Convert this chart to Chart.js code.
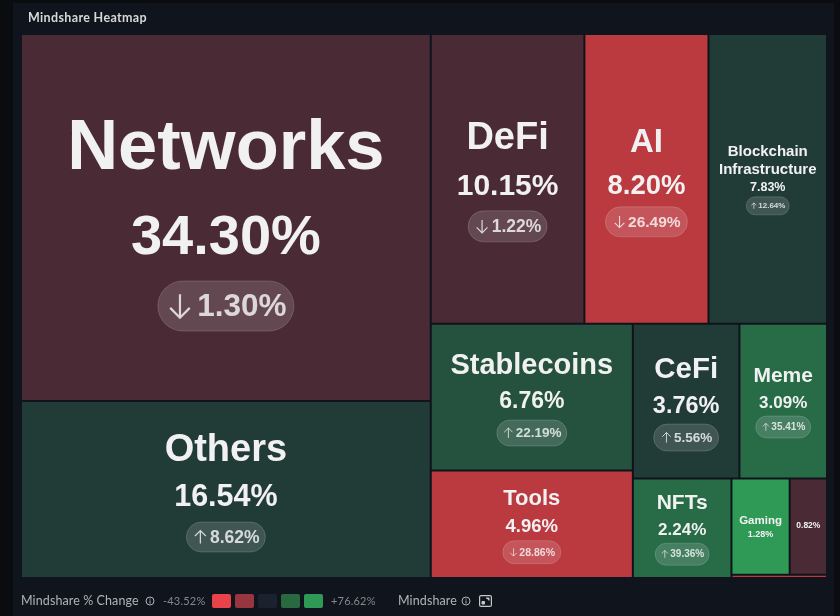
<!DOCTYPE html>
<html>
<head>
<meta charset="utf-8">
<title>Mindshare Heatmap</title>
<script src="https://cdn.jsdelivr.net/npm/chart.js@4/dist/chart.umd.min.js"></script>
<style>
    html, body { margin: 0; padding: 0; width: 840px; height: 616px; overflow: hidden; background: #0a0c10; }
    #card { position: absolute; left: 13px; top: 3px; width: 821px; height: 613px; background: #10141c; }
    #chart { position: absolute; left: 0; top: 0; }
    .txt { position: absolute; font-family: Lato, sans-serif; white-space: nowrap; }
    #title { left: 28px; top: 10px; font-size: 12.5px; font-weight: 700; color: #d6d8da; letter-spacing: 0.35px; }
    .legend { top: 593px; font-size: 12.5px; line-height: 16px; color: #b0b3b8; letter-spacing: 0.1px; }
    .range { top: 594px; font-size: 11px; line-height: 14px; color: #85888e; letter-spacing: 0.2px; }
    .swatch { position: absolute; top: 594px; width: 19px; height: 14px; border-radius: 2px; }
    svg { position: absolute; }
</style>
</head>
<body>
<div id="card"></div>
<canvas id="chart" width="840" height="616"></canvas>
<div id="title" class="txt">Mindshare Heatmap</div>
<div class="txt legend" style="left:21px">Mindshare % Change</div>
<svg style="left:145px;top:596px" width="10" height="10" viewBox="0 0 10 10"><circle cx="5" cy="5" r="4" fill="none" stroke="#b0b3b8"/><path d="M5 4.5V7.5M5 2.6V3.6" stroke="#b0b3b8"/></svg>
<div class="txt range" style="left:163px">-43.52%</div>
<div id="swatches"></div>
<div class="txt range" style="left:331px">+76.62%</div>
<div class="txt legend" style="left:398px">Mindshare</div>
<svg style="left:461px;top:596px" width="10" height="10" viewBox="0 0 10 10"><circle cx="5" cy="5" r="4" fill="none" stroke="#b0b3b8"/><path d="M5 4.5V7.5M5 2.6V3.6" stroke="#b0b3b8"/></svg>
<svg style="left:479px;top:595px" width="13" height="12" viewBox="0 0 13 12"><rect x="0.6" y="0.6" width="11.8" height="10.8" rx="1.5" fill="none" stroke="#c4c6ca" stroke-width="1.2"/><path d="M3 9V6.5H5.5V9ZM7 3H10V5.5" fill="#c4c6ca" stroke="#c4c6ca"/></svg>
<script>
// Data
const categories = ["Networks", "Others", "DeFi", "AI", "Blockchain Infrastructure", "Stablecoins", "Tools", "CeFi", "Meme", "NFTs", "Gaming", "", ""];
const shares = [34.30, 16.54, 10.15, 8.20, 7.83, 6.76, 4.96, 3.76, 3.09, 2.24, 1.28, 0.82, 0.07];
// the last three changes are not printed
const changes = [-1.30, 8.62, -1.22, -26.49, 12.64, 22.19, -28.86, 5.56, 35.41, 39.36, 60, -2, -30];
const legendColors = ["#e8424a", "#97363f", "#1a2230", "#28693f", "#2f9a55"];

// How the cells nest: h = side by side, v = stacked
const nesting = ["h",
    ["v", 0, 1],
    ["v",
        ["h", 2, 3, 4],
        ["h",
            ["v", 5, 6],
            ["v",
                ["h", 7, 8],
                ["h", 9, ["v", ["h", 10, 11], 12]]
            ]
        ]
    ]
];

// Text sizes and offsets from the cell centre: title, share, badge
const labelStyles = [
    { title: 70.5, titleDy: [-72.5], share: 56, shareDy: 17.5, badge: 31.5, badgeDy: 88.5, badgeW: 136, badgeH: 50 },
    { title: 38, titleDy: [-41.5], share: 30.5, shareDy: 6.5, badge: 17.5, badgeDy: 47.5, badgeW: 79, badgeH: 30 },
    { title: 38, titleDy: [-43], share: 30, shareDy: 6, badge: 17.5, badgeDy: 47.5, badgeW: 79, badgeH: 31 },
    { title: 33, titleDy: [-38], share: 27.5, shareDy: 6, badge: 15.5, badgeDy: 43, badgeW: 82, badgeH: 30 },
    { title: 15, titleDy: [-28, -10], share: 12.5, shareDy: 8, badge: 8, badgeDy: 27, badgeW: 43, badgeH: 18 },
    { title: 29, titleDy: [-33], share: 23, shareDy: 3, badge: 13.5, badgeDy: 36, badgeW: 70, badgeH: 26 },
    { title: 22, titleDy: [-27], share: 18.5, shareDy: 2, badge: 10.5, badgeDy: 28, badgeW: 58, badgeH: 23 },
    { title: 29.5, titleDy: [-33], share: 23.5, shareDy: 4, badge: 13.5, badgeDy: 36.5, badgeW: 65, badgeH: 27 },
    { title: 21, titleDy: [-26], share: 17, shareDy: 1, badge: 10, badgeDy: 26, badgeW: 55, badgeH: 22 },
    { title: 21, titleDy: [-26], share: 17, shareDy: 1, badge: 10, badgeDy: 26, badgeW: 54, badgeH: 22 },
    { title: 11.5, titleDy: [-6.5], share: 9, shareDy: 7.5 },
    { share: 8.5, shareDy: -1.5 }
];
const titleLines = { "Blockchain Infrastructure": ["Blockchain", "Infrastructure"] };

function colorFor(change) {
    if (change <= -20) return "#ba3a40";
    if (change < 0) return "#4a2b35";
    if (change < 15) return "#213b37";
    if (change < 30) return "#25523f";
    if (change < 50) return "#286b47";
    return "#2f9a55";
}

function sumNode(node) {
    if (typeof node === "number") return shares[node];
    return node.slice(1).reduce((total, child) => total + sumNode(child), 0);
}

// Splits a box by the shares of its children
function layoutCells(node, x0, x1, y0, y1, cells) {
    if (typeof node === "number") {
        cells[node] = { x: [x0, x1], y: [y0, y1] };
        return cells;
    }
    const total = sumNode(node);
    let pos = node[0] === "h" ? x0 : y0;
    node.slice(1).forEach(child => {
        const frac = sumNode(child) / total;
        if (node[0] === "h") {
            const next = pos + (x1 - x0) * frac;
            layoutCells(child, pos, next, y0, y1, cells);
            pos = next;
        } else {
            const next = pos + (y1 - y0) * frac;
            layoutCells(child, x0, x1, pos, next, cells);
            pos = next;
        }
    });
    return cells;
}

// Chart.js has no treemap type, so this one places bar elements with the x and y scales
class TreemapController extends Chart.DatasetController {
    update(mode) {
        const meta = this._cachedMeta;
        this.updateElements(meta.data, 0, meta.data.length, mode);
    }
    updateElements(elements, start, count, mode) {
        const { xScale, yScale } = this._cachedMeta;
        const cells = this.getDataset().data;
        for (let i = start; i < start + count; i++) {
            const left = xScale.getPixelForValue(cells[i].x[0]);
            const right = xScale.getPixelForValue(cells[i].x[1]);
            const top = yScale.getPixelForValue(cells[i].y[0]);
            const bottom = yScale.getPixelForValue(cells[i].y[1]);
            this.updateElement(elements[i], i, {
                x: (left + right) / 2,
                y: top,
                base: bottom,
                width: right - left,
                height: bottom - top,
                horizontal: false,
                borderSkipped: { top: false, right: false, bottom: false, left: false },
                enableBorderRadius: false,
                inflateAmount: 0,
                options: this.resolveDataElementOptions(i, mode)
            }, mode);
        }
    }
}
TreemapController.id = "treemap";
TreemapController.defaults = { dataElementType: "bar" };
Chart.register(TreemapController);

function drawBadge(ctx, cx, cy, style, change) {
    const x = cx - style.badgeW / 2, y = cy - style.badgeH / 2;
    ctx.beginPath();
    ctx.roundRect(x, y, style.badgeW, style.badgeH, style.badgeH / 2);
    ctx.fillStyle = "rgba(255,255,255,0.14)";
    ctx.fill();
    ctx.strokeStyle = "rgba(255,255,255,0.16)";
    ctx.lineWidth = 1;
    ctx.stroke();

    const size = style.badge;
    const text = Math.abs(change).toFixed(2) + "%";
    ctx.font = `bold ${size}px "Liberation Sans"`;
    const arrowW = size * 0.62, gap = size * 0.24;
    const startX = cx + size * 0.08 - (arrowW + gap + ctx.measureText(text).width) / 2;
    ctx.fillStyle = "rgba(255,255,255,0.78)";
    ctx.textAlign = "left";
    ctx.fillText(text, startX + arrowW + gap, cy + size * 0.04);

    // arrow icon
    const ax = startX + arrowW / 2, h = size * 0.37, dir = change < 0 ? 1 : -1;
    ctx.beginPath();
    ctx.moveTo(ax, cy - h * dir);
    ctx.lineTo(ax, cy + h * dir);
    ctx.moveTo(ax - arrowW / 2, cy + (h - arrowW / 2) * dir);
    ctx.lineTo(ax, cy + h * dir);
    ctx.lineTo(ax + arrowW / 2, cy + (h - arrowW / 2) * dir);
    ctx.strokeStyle = "rgba(255,255,255,0.78)";
    ctx.lineWidth = Math.max(0.8, size * 0.07);
    ctx.stroke();
}

const cellLabels = {
    id: "cellLabels",
    afterDatasetsDraw(chart) {
        const ctx = chart.ctx;
        ctx.save();
        ctx.textBaseline = "middle";
        chart.getDatasetMeta(0).data.forEach((bar, i) => {
            const style = labelStyles[i];
            if (!style) return;
            const cx = bar.x, cy = (bar.y + bar.base) / 2;
            ctx.textAlign = "center";
            ctx.fillStyle = "#f2f1f2";
            if (categories[i]) {
                const lines = titleLines[categories[i]] || [categories[i]];
                ctx.font = `bold ${style.title}px "Liberation Sans"`;
                lines.forEach((line, n) => ctx.fillText(line, cx, cy + style.titleDy[n] + style.title * 0.06));
            }
            ctx.font = `bold ${style.share}px "Liberation Sans"`;
            ctx.fillText(shares[i].toFixed(2) + "%", cx, cy + style.shareDy + style.share * 0.06);
            if (style.badge) drawBadge(ctx, cx, cy + style.badgeDy, style, changes[i]);
        });
        ctx.restore();
    }
};

document.getElementById("swatches").innerHTML = legendColors
    .map((c, i) => `<div class="swatch" style="left:${212 + i * 23}px;background:${c}"></div>`)
    .join("");

new Chart(document.getElementById("chart"), {
    type: "treemap",
    data: {
        labels: categories,
        datasets: [{
            data: layoutCells(nesting, 0, 100, 0, 100, []),
            backgroundColor: changes.map(colorFor),
            borderColor: "#10141c",
            borderWidth: 1,
            parsing: false
        }]
    },
    options: {
        responsive: false,
        animation: false,
        events: [],
        layout: { padding: { left: 21, right: 13, top: 34, bottom: 38 } },
        scales: {
            x: { type: "linear", min: 0, max: 100, display: false },
            y: { type: "linear", min: 0, max: 100, reverse: true, display: false }
        },
        plugins: { legend: { display: false }, tooltip: { enabled: false } }
    },
    plugins: [cellLabels]
});
</script>
</body>
</html>
